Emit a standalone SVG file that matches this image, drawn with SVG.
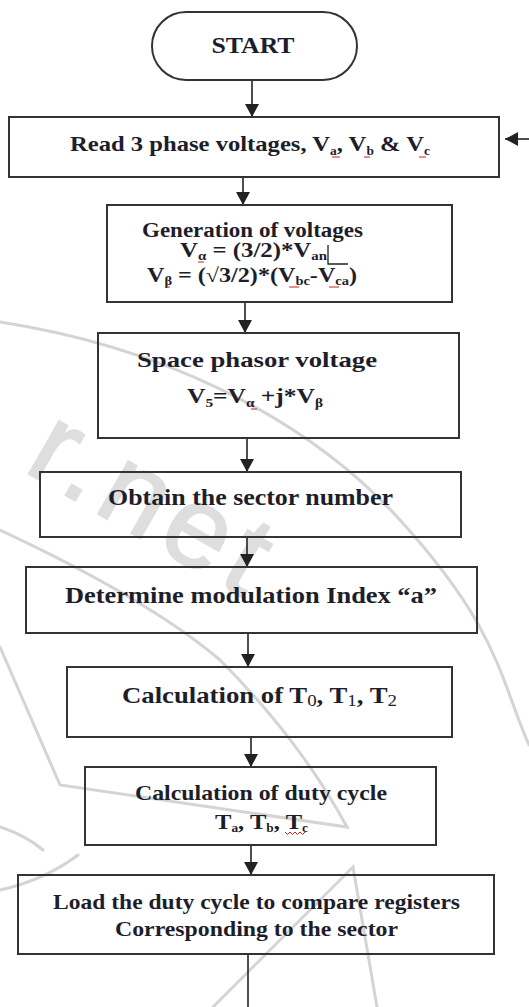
<svg xmlns="http://www.w3.org/2000/svg" width="529" height="1007" viewBox="0 0 529 1007">
<style>
.box{fill:none;stroke:#333;stroke-width:2}
.t{font-family:"Liberation Serif","Times New Roman",serif;font-weight:bold;fill:#1e1e2a;text-anchor:middle}
.f24{font-size:24px}
.f22{font-size:22px}
.f20{font-size:20px}
.sub{font-size:12px}
.conn{stroke:#222;stroke-width:1.6;fill:none}
.wm{fill:none;stroke:#d4d4d4;stroke-width:3;stroke-linecap:round}
.wmt{font-family:"Liberation Sans",Arial,sans-serif;font-size:115px;fill:#dedede;stroke:#dedede;stroke-width:2}
.spell{fill:none;stroke:#d02020;stroke-width:1}
</style>
<defs>
<marker id="ah" markerUnits="userSpaceOnUse" markerWidth="14" markerHeight="14" refX="13" refY="7" orient="auto">
<path d="M0,0 L13,7 L0,14 z" fill="#222"/>
</marker>
</defs>
<rect width="529" height="1007" fill="#fff"/>
<g id="watermark">
<text class="wmt" x="22" y="470" transform="rotate(30 22 470)" letter-spacing="8">r.net</text>
<path class="wm" d="M0,322 C150,345 300,410 400,520 S500,680 529,745"/>
<path class="wm" d="M0,530 Q150,600 220,660 Q300,740 347,827 L60,785 L0,647"/>
<path class="wm" d="M213,1007 L353,867 L377,1007"/>
<path class="wm" d="M0,827 Q25,835 43,850" stroke-width="6"/>
<path class="wm" d="M0,890 Q45,880 78,855" stroke-width="6"/>
</g>
<g id="connectors">
<line class="conn" x1="252" y1="80" x2="252" y2="117" marker-end="url(#ah)"/>
<line class="conn" x1="529" y1="139" x2="505" y2="139" marker-end="url(#ah)"/>
<line class="conn" x1="243" y1="177" x2="243" y2="205" marker-end="url(#ah)"/>
<line class="conn" x1="245" y1="302" x2="245" y2="333" marker-end="url(#ah)"/>
<line class="conn" x1="247" y1="438" x2="247" y2="472" marker-end="url(#ah)"/>
<line class="conn" x1="247" y1="537" x2="247" y2="567" marker-end="url(#ah)"/>
<line class="conn" x1="248" y1="633" x2="248" y2="667" marker-end="url(#ah)"/>
<line class="conn" x1="251" y1="737" x2="251" y2="767" marker-end="url(#ah)"/>
<line class="conn" x1="251" y1="845" x2="251" y2="875" marker-end="url(#ah)"/>
<line class="conn" x1="248" y1="954" x2="248" y2="1007"/>
</g>
<g id="start">
<rect class="box" x="152" y="12" width="205" height="68" rx="34"/>
<text class="t f24" x="253" y="53" textLength="83" lengthAdjust="spacingAndGlyphs">START</text>
</g>
<g id="read">
<rect class="box" x="9" y="117" width="490" height="60"/>
<text class="t f22" x="250" y="151" textLength="360" lengthAdjust="spacingAndGlyphs">Read 3 phase voltages, V<tspan class="sub" dy="4">a</tspan><tspan dy="-4">, V</tspan><tspan class="sub" dy="4">b</tspan><tspan dy="-4"> &amp; V</tspan><tspan class="sub" dy="4">c</tspan></text>
</g>
<g id="generation">
<rect class="box" x="107" y="205" width="345" height="97"/>
<text class="t f20" x="252.5" y="237" textLength="221" lengthAdjust="spacingAndGlyphs">Generation of voltages</text>
<text class="t f20" x="253.5" y="257" textLength="147" lengthAdjust="spacingAndGlyphs">V<tspan class="sub" dy="3">α</tspan><tspan dy="-3"> = (3/2)*V</tspan><tspan class="sub" dy="3">an</tspan></text>
<path d="M328,245 V264 H348" fill="none" stroke="#222" stroke-width="1.3"/>
<text class="t f20" x="252" y="282" textLength="210" lengthAdjust="spacingAndGlyphs">V<tspan class="sub" dy="3">β</tspan><tspan dy="-3"> = (√3/2)*(V</tspan><tspan class="sub" dy="3">bc</tspan><tspan dy="-3">-V</tspan><tspan class="sub" dy="3">ca</tspan><tspan dy="-3">)</tspan></text>
</g>
<g id="space">
<rect class="box" x="98" y="333" width="361" height="105"/>
<text class="t f22" x="257" y="367" textLength="240" lengthAdjust="spacingAndGlyphs">Space phasor voltage</text>
<text class="t f20" x="255" y="403" textLength="136" lengthAdjust="spacingAndGlyphs">V<tspan class="sub" dy="4">5</tspan><tspan dy="-4">=V</tspan><tspan class="sub" dy="4">α</tspan><tspan dy="-4"> +j*V</tspan><tspan class="sub" dy="4">β</tspan></text>
</g>
<g id="sector">
<rect class="box" x="40" y="472" width="421" height="65"/>
<text class="t f24" x="250.5" y="505" textLength="285" lengthAdjust="spacingAndGlyphs">Obtain the sector number</text>
</g>
<g id="modulation">
<rect class="box" x="26" y="567" width="451" height="66"/>
<text class="t f24" x="251" y="603" textLength="372" lengthAdjust="spacingAndGlyphs">Determine modulation Index “a”</text>
</g>
<g id="calct">
<rect class="box" x="67" y="667" width="385" height="70"/>
<text class="t f24" x="259.5" y="703" textLength="275" lengthAdjust="spacingAndGlyphs">Calculation of T<tspan font-size="17" font-weight="normal" dy="3">0</tspan><tspan dy="-3">, T</tspan><tspan font-size="17" font-weight="normal" dy="3">1</tspan><tspan dy="-3">, T</tspan><tspan font-size="17" font-weight="normal" dy="3">2</tspan></text>
</g>
<g id="duty">
<rect class="box" x="85" y="767" width="351" height="78"/>
<text class="t f22" x="261" y="800" textLength="252" lengthAdjust="spacingAndGlyphs">Calculation of duty cycle</text>
<text class="t f22" x="261.5" y="829" textLength="93" lengthAdjust="spacingAndGlyphs">T<tspan class="sub" dy="3">a</tspan><tspan dy="-3">, T</tspan><tspan class="sub" dy="3">b</tspan><tspan dy="-3">, T</tspan><tspan class="sub" dy="3">c</tspan></text>
</g>
<g id="load">
<rect class="box" x="18" y="875" width="476" height="79"/>
<text class="t f22" x="256.5" y="909" textLength="407" lengthAdjust="spacingAndGlyphs">Load the duty cycle to compare registers</text>
<text class="t f22" x="256.5" y="936" textLength="283" lengthAdjust="spacingAndGlyphs">Corresponding to the sector</text>
</g>
<g id="spellmarks">
<path class="spell" d="M285,832 l2.5,2.5 l2.5,-2.5 l2.5,2.5 l2.5,-2.5 l2.5,2.5 l2.5,-2.5 l2.5,2.5 l2.5,-2.5"/>
<path class="spell" d="M332,157 h8 M364,157 h6 M419,157 h7"/>
<path class="spell" d="M198,262 h6 M165,287 h5 M289,287 h10 M329,287 h10"/>
<path class="spell" d="M251,409 h6 M315,409 h3"/>
</g>
</svg>
